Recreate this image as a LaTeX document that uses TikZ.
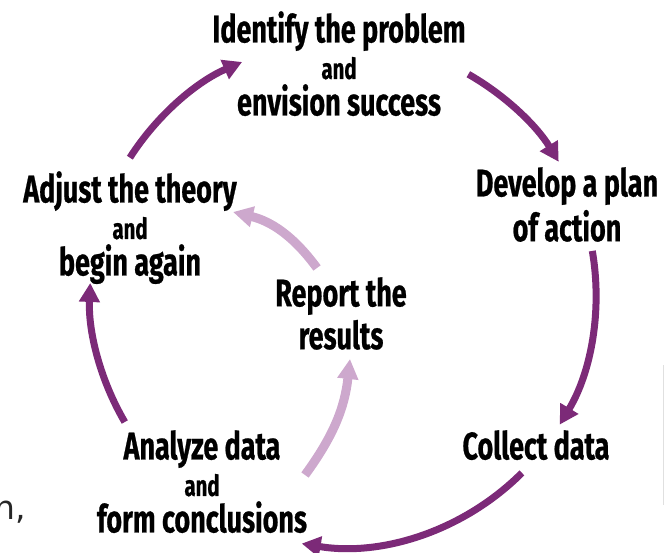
\documentclass[tikz,border=0pt]{standalone}
\usepackage{fontspec}
\setmainfont{Fira Sans}[FakeStretch=0.70, BoldFeatures={FakeBold=0.6}]
\newfontfamily\fragfont{DejaVu Sans}
\usetikzlibrary{arrows.meta}

\definecolor{cyclepurple}{RGB}{124,42,120}
\definecolor{reportpurple}{RGB}{205,168,205}
\newcommand{\andword}[1]{{\fontsize{29}{36.5}\selectfont #1}}

\begin{document}
\begin{tikzpicture}[
    x=1pt, y=1pt,
    stagetext/.style={font=\bfseries\fontsize{38.5}{36.5}\selectfont, align=center, inner sep=0pt, anchor=north},
    cyclearrow/.style={draw=cyclepurple, line width=7pt, -{Triangle[width=20pt,length=19pt]}},
    reportarrow/.style={draw=reportpurple, line width=9pt, -{Triangle[width=20pt,length=20pt]}}
]
\useasboundingbox (0,0) rectangle (664,553);

% Stages
\node[stagetext] (identify) at (339,542) {Identify the problem\\\andword{and}\\envision success};
\node[stagetext] (develop) at (567,386) {Develop a plan\\[4pt]of action};
\node[stagetext] (collect) at (536,123) {Collect data};
\node[stagetext] (analyze) at (202,123) {Analyze data\\\andword{and}\\form conclusions};
\node[stagetext] (adjust) at (130,382) {Adjust the theory\\\andword{and}\\begin again};
\node[stagetext] (report) at (341,276) {Report the\\[4pt]results};
\node[anchor=base west, inner sep=0pt, font=\fragfont\fontsize{33}{36}\selectfont, text=black!85] (frag) at (-6,33) {n,};

% Cycle
\coordinate (c) at (343,259);
\path (c) ++(147.4:253) coordinate (adjust-out);
\path (c) ++(60.3:253) coordinate (identify-out);
\path (c) ++(9.8:253) coordinate (develop-out);
\path (c) ++(-45:253) coordinate (collect-out);
\path (c) ++(210.4:253) coordinate (analyze-out);

\draw[cyclearrow] (adjust-out) arc[start angle=147.4, end angle=113.5, radius=253];
\draw[cyclearrow] (identify-out) arc[start angle=60.3, end angle=31.5, radius=253];
\draw[cyclearrow] (develop-out) arc[start angle=9.8, end angle=-31.1, radius=253];
\draw[cyclearrow] (collect-out) arc[start angle=-45, end angle=-99.4, radius=253];
\draw[cyclearrow] (analyze-out) arc[start angle=210.4, end angle=177.5, radius=253];

% Report arrows
\coordinate (report-out) at (317,285);
\coordinate (report-in) at (350,194);
\coordinate (analyze-rep) at (305,78);
\coordinate (adjust-in) at (233,341);
\draw[reportarrow] (report-out) to[bend right=20] (adjust-in);
\draw[reportarrow] (analyze-rep) to[bend right=15] (report-in);

\draw[black!12, line width=1pt] (663,188) -- (663,48);
\end{tikzpicture}
\end{document}
